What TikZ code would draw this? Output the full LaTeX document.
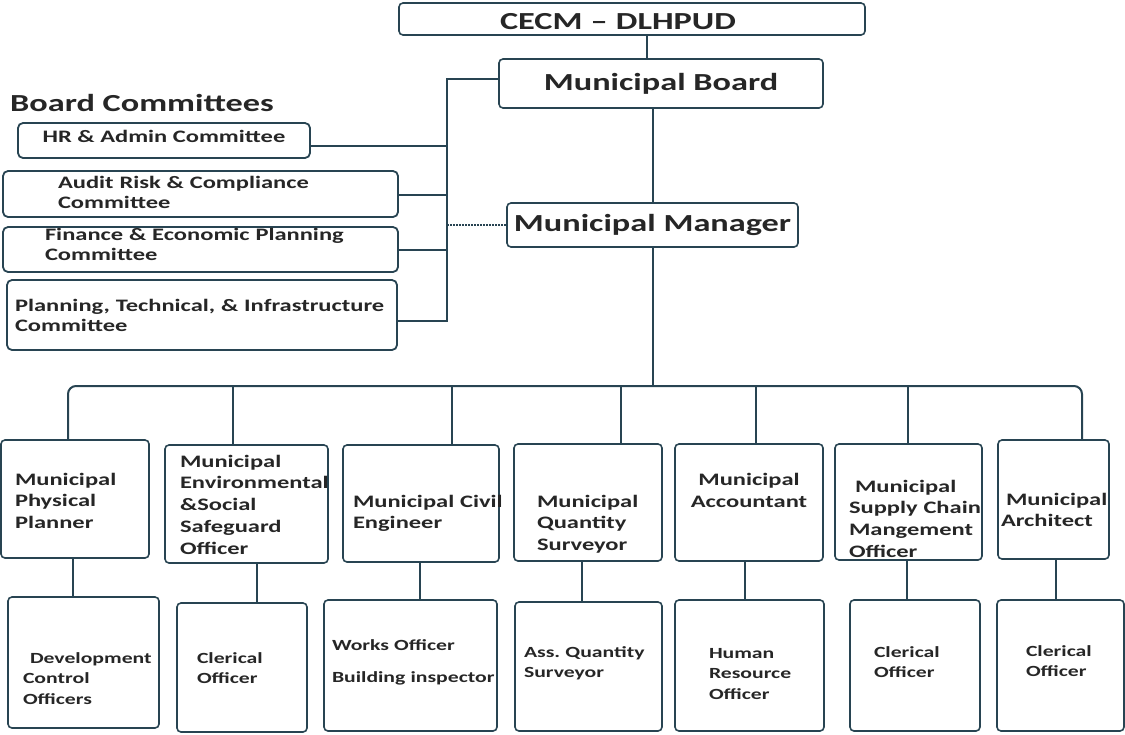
\documentclass[tikz,border=0pt]{standalone}
\usepackage{fontspec}
\setmainfont{Carlito}[FakeStretch=1.4]
\usepackage{tikz}
\usetikzlibrary{positioning,calc}
\definecolor{orgteal}{RGB}{40,68,82}
\definecolor{orgink}{RGB}{38,38,38}
\hyphenpenalty=10000
\exhyphenpenalty=10000

\begin{document}
\begin{tikzpicture}[x=1pt,y=-1pt,
  topbox/.style={draw=orgteal,line width=1.6pt,rounded corners=4pt,text=orgink,
              font=\bfseries\fontsize{24.5}{29}\selectfont,inner sep=0pt},
  cmtbox/.style={draw=orgteal,line width=1.8pt,rounded corners=5pt,text=orgink,align=left,
              font=\bfseries\fontsize{17.5}{20.7}\selectfont,inner sep=0pt},
  headbox/.style={draw=orgteal,line width=1.6pt,rounded corners=4pt,text=orgink,align=left,
              font=\bfseries\fontsize{17.5}{21.8}\selectfont,inner sep=0pt,text height=20pt},
  staffbox/.style={headbox,font=\bfseries\fontsize{15.5}{20.5}\selectfont},
  link/.style={draw=orgteal,line width=2pt},
  dots/.style={draw=orgteal,line width=1.4pt,dash pattern=on 2pt off 1pt}]
  \useasboundingbox (0,0) rectangle (1125,734);

  % top of the chart
  \node[topbox,minimum width=466pt,minimum height=32pt,text width=264pt,align=left,text height=20pt,text depth=0pt] (cecm) at (632,19) {CECM -- DLHPUD};
  \node[topbox,minimum width=324pt,minimum height=49pt] (board) at (661,83.5) {Municipal Board};
  \node[topbox,minimum width=291pt,minimum height=44pt] (mgr) at (652.5,225) {Municipal Manager};

  % board committees
  \node[anchor=base west,inner sep=0pt,text=orgink,font=\bfseries\fontsize{24.5}{29}\selectfont] (bctitle) at (10,111) {Board Committees};
  \node[cmtbox,minimum width=292pt,minimum height=35pt,text height=15pt,text depth=12pt] (hr) at (164,140.5) {HR \& Admin Committee};
  \node[cmtbox,minimum width=395pt,minimum height=46pt,text width=285pt,text height=15pt,text depth=27pt] (audit) at (200.5,194) {Audit Risk \& Compliance\\Committee};
  \node[cmtbox,minimum width=395pt,minimum height=45pt,text width=311pt,text height=12pt,text depth=31pt] (finance) at (200.5,249.5) {Finance \& Economic Planning\\Committee};
  \node[cmtbox,minimum width=390pt,minimum height=70pt,text width=374pt,text height=20pt,text depth=28pt] (planning) at (202,315) {Planning, Technical,~\&~Infrastructure\\Committee};

  % heads of department
  \node[headbox,minimum width=148pt,minimum height=118pt,text width=120pt,text depth=48pt] (physplan) at (75,499) {Municipal\\Physical\\Planner};
  \node[headbox,minimum width=163pt,minimum height=118pt,text width=133pt,text depth=94pt] (envsoc) at (246.5,504) {Municipal\\Environmental\\\&Social\\Safeguard\\Officer};
  \node[headbox,minimum width=156pt,minimum height=117pt,text width=136pt,text depth=13pt] (civeng) at (421,503.5) {Municipal~Civil\\Engineer};
  \node[headbox,minimum width=148pt,minimum height=117pt,text width=102pt,text depth=11pt] (qsurv) at (588,502.5) {Municipal\\Quantity\\Surveyor};
  \node[headbox,minimum width=148pt,minimum height=117pt,align=center,text depth=11pt] (acct) at (749,502.5) {Municipal\\Accountant};
  \node[headbox,minimum width=147pt,minimum height=116pt,text width=119pt,text depth=40pt] (scm) at (908.5,502) {\hspace*{6pt}Municipal\\Supply~Chain\\Mangement\\Officer};
  \node[headbox,minimum width=111pt,minimum height=119pt,text width=105pt,text depth=9pt] (arch) at (1053.5,499.5) {\hspace*{5pt}Municipal\\Architect};

  % staff under them
  \node[staffbox,minimum width=151pt,minimum height=131pt,text width=121pt,text depth=19pt] (devctrl) at (83.5,662.5) {\hspace*{7pt}Development\\Control\\Officers};
  \node[staffbox,minimum width=130pt,minimum height=129pt,text width=90pt,text depth=29pt] (clerk1) at (242,667.5) {Clerical\\Officer};
  \node[staffbox,minimum width=173pt,minimum height=131pt,text width=157pt,text depth=51pt] (works) at (410.5,665.5) {Works Officer\\[11.5pt]Building~inspector};
  \node[staffbox,minimum width=147pt,minimum height=129pt,text width=129pt,text depth=39pt] (aqs) at (588.5,666.5) {Ass.\ Quantity\\Surveyor};
  \node[staffbox,minimum width=149pt,minimum height=131pt,text width=81pt,text depth=35pt] (hro) at (749.5,665.5) {Human\\Resource\\Officer};
  \node[staffbox,minimum width=130pt,minimum height=131pt,text width=82pt,text depth=37pt] (clerk2) at (915,665.5) {Clerical\\Officer};
  \node[staffbox,minimum width=127pt,minimum height=131pt,text width=69pt,text depth=39pt] (clerk3) at (1060.5,665.5) {Clerical\\Officer};

  % connectors
  \draw[link] ([xshift=15pt]cecm.south) -- ([xshift=15pt]cecm.south |- board.north);
  \draw[link] (mgr.north |- board.south) -- (mgr.north);
  \coordinate (spine) at (447,79);
  \draw[link] (board.west |- spine) -- (spine) |- ([yshift=-6pt]planning.east);
  \foreach \c/\dy in {hr/-5.5,audit/-1,finance/0}
    \draw[link] ([yshift=\dy pt]\c.east) -- ([yshift=\dy pt]\c.east -| spine);
  \draw[dots] (mgr.west) -- (mgr.west -| spine);

  \coordinate (busL) at (68,386);
  \coordinate (busR) at (1082,386);
  \draw[link] (mgr.south) -- (mgr.south |- busL);
  \draw[link,rounded corners=8pt] (busL |- physplan.north) -- (busL) -- (busR) -- (busR |- arch.north);
  \foreach \n/\x in {envsoc/233,civeng/452,qsurv/621,acct/756,scm/908}{
    \coordinate (tap-\n) at (\x,386);
    \draw[link] (tap-\n) -- (tap-\n |- \n.north);
  }
  \foreach \a/\b/\dx in {physplan/devctrl/-2,envsoc/clerk1/10.5,civeng/works/-1,qsurv/aqs/-6,acct/hro/-4,scm/clerk2/-1.5,arch/clerk3/2.5}
    \draw[link] ([xshift=\dx pt]\a.south) -- ([xshift=\dx pt]\a.south |- \b.north);
\end{tikzpicture}
\end{document}
